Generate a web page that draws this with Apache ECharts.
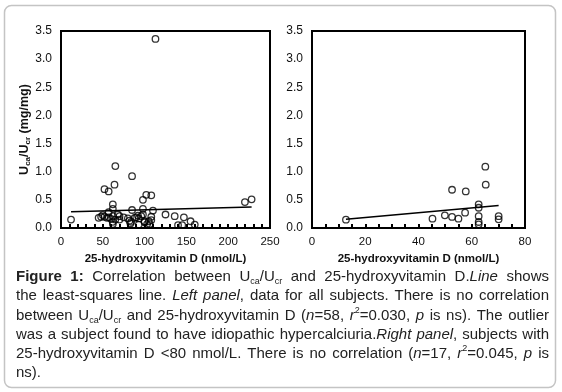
<!DOCTYPE html>
<html><head><meta charset="utf-8">
<script src="https://cdn.jsdelivr.net/npm/echarts@6/dist/echarts.min.js"></script>
<style>html,body{margin:0;padding:0;background:#fff}#main{width:562px;height:392px}</style>
</head><body><div id="main"></div>
<script>
// left panel: all subjects
var leftX=[12,113,65,85,64,52,57,102,108,98,220,228,62,85,98,110,62,57,125,136,147,155,160,140,145,45,50,52,55,62,62,62,70,70,80,82,83,90,93,96,98,100,93,105,108,108,106,88,103,65,57,48,75,92,100,68,84,60];
var leftY=[0.15,3.36,1.10,0.92,0.77,0.69,0.65,0.59,0.58,0.50,0.46,0.51,0.42,0.32,0.34,0.31,0.34,0.28,0.24,0.21,0.19,0.12,0.06,0.05,0.05,0.18,0.23,0.20,0.18,0.21,0.11,0.07,0.21,0.15,0.17,0.13,0.08,0.19,0.17,0.21,0.24,0.12,0.06,0.12,0.20,0.14,0.07,0.18,0.07,0.15,0.19,0.20,0.19,0.22,0.10,0.24,0.11,0.16];
var leftFitX=[12,228], leftFitY=[0.29,0.375];
// right panel: 25-hydroxyvitamin D < 80
var rightX=[12.75,45.25,49.9,52.6,55,57.5,52.6,57.75,65.1,65.25,62.6,62.6,62.6,62.6,62.6,70.1,70.1];
var rightY=[0.148,0.166,0.225,0.196,0.166,0.273,0.68,0.65,1.09,0.77,0.42,0.36,0.21,0.107,0.065,0.21,0.155];
var rightFitX=[12.75,70.1], rightFitY=[0.154,0.40];
var captionLines=[
 "{b|Figure} {b|1:} Correlation between U{sub|ca}/U{sub|cr} and 25-hydroxyvitamin D.{i|Line} shows",
 "the least-squares line. {i|Left} {i|panel}, data for all subjects. There is no correlation",
 "between U{sub|ca}/U{sub|cr} and 25-hydroxyvitamin D ({i|n}=58, {i|r}{sup|2}=0.030, {i|p} is ns). The outlier",
 "was a subject found to have idiopathic hypercalciuria.{i|Right} {i|panel}, subjects with",
 "25-hydroxyvitamin D <80 nmol/L. There is no correlation ({i|n}=17, {i|r}{sup|2}=0.045, {i|p} is",
 "ns)."
];

var FONT='"Liberation Sans", Arial, sans-serif';
var chart=echarts.init(document.getElementById('main'));
function pairs(xs,ys){var a=[];for(var i=0;i<xs.length;i++){a.push([xs[i],ys[i]]);}return a;}

// caption, justified word by word
var ctx=document.createElement('canvas').getContext('2d');
var styles={n:{w:'normal',s:'normal',size:15,dy:0},b:{w:'bold',s:'normal',size:15,dy:0},i:{w:'normal',s:'italic',size:15,dy:0},
  sub:{w:'normal',s:'normal',size:9,dy:5},sup:{w:'normal',s:'normal',size:9,dy:-5}};
function fontOf(k){var st=styles[k];return st.s+' '+st.w+' '+st.size+'px '+FONT;}
function parseWord(w){var segs=[],re=/\{(\w+)\|([^}]*)\}|([^{]+)/g,m;while((m=re.exec(w))){if(m[1]){segs.push([m[1],m[2]]);}else{segs.push(['n',m[3]]);}}return segs;}
var capLeft=16,capRight=549,capTop=277,capStep=19.2;
var graphics=[{type:'rect',shape:{x:4.5,y:5.5,width:551,height:382,r:7},style:{fill:'none',stroke:'#c4c4c4',lineWidth:1.5},silent:true}];
captionLines.forEach(function(line,li){
  var words=line.split(' ').map(parseWord);
  var widths=words.map(function(segs){var w=0;segs.forEach(function(s){ctx.font=fontOf(s[0]);s.push(ctx.measureText(s[1]).width);w+=s[2];});return w;});
  var total=widths.reduce(function(a,b){return a+b;},0);
  ctx.font=fontOf('n');
  var spaceW=ctx.measureText(' ').width;
  var gap=(li<captionLines.length-1)?(capRight-capLeft-total)/(words.length-1):spaceW;
  var x=capLeft,y=capTop+li*capStep;
  words.forEach(function(segs){
    segs.forEach(function(s){
      graphics.push({type:'text',silent:true,style:{text:s[1],x:x,y:y+styles[s[0]].dy,font:fontOf(s[0]),fill:'#222',textAlign:'left',textVerticalAlign:'middle'}});
      x+=s[2];
    });
    x+=gap;
  });
});

var nameStyle={fontSize:11.5,fontWeight:'bold',color:'#111',fontFamily:FONT};
function xAx(idx,max,interval,minorSplit){
  return {gridIndex:idx,type:'value',min:0,max:max,interval:interval,
    name:'25-hydroxyvitamin D (nmol/L)',nameLocation:'middle',nameGap:25,nameTextStyle:nameStyle,
    axisLine:{onZero:false,lineStyle:{color:'#000',width:2}},
    axisTick:{show:true,inside:true,length:4,lineStyle:{color:'#000',width:2}},
    minorTick:{show:true,splitNumber:minorSplit,length:4,lineStyle:{color:'#000',width:2}},
    axisLabel:{margin:8,fontSize:11.5,color:'#111',fontFamily:FONT},splitLine:{show:false}};
}
function yAx(idx,withName){
  var a={gridIndex:idx,type:'value',min:0,max:3.5,interval:0.5,
    axisLine:{onZero:false,lineStyle:{color:'#000',width:2}},axisTick:{show:false},
    axisLabel:{margin:9,fontSize:12,color:'#111',fontFamily:FONT,formatter:function(v){return v.toFixed(1);}},splitLine:{show:false}};
  if(withName){
    a.name='U{s|ca}/U{s|cr} (mg/mg)';a.nameLocation='middle';a.nameGap=28;
    a.nameTextStyle={fontSize:12.5,fontWeight:'bold',color:'#111',fontFamily:FONT,
      rich:{s:{fontSize:8,fontWeight:'bold',fontFamily:FONT,color:'#111',verticalAlign:'bottom',padding:[5,0,0,0]}}};
  }
  return a;
}
var sym={color:'rgba(0,0,0,0)',borderColor:'#000',borderWidth:1.3};
var option={
  backgroundColor:'#fff',animation:false,
  grid:[{left:61,top:31,width:209,height:197,show:true,borderColor:'#000',borderWidth:2},
        {left:312,top:31,width:213,height:197,show:true,borderColor:'#000',borderWidth:2}],
  xAxis:[xAx(0,250,50,5),xAx(1,80,20,4)],
  yAxis:[yAx(0,true),yAx(1,false)],
  series:[
    {type:'scatter',xAxisIndex:0,yAxisIndex:0,data:pairs(leftX,leftY),symbol:'circle',symbolSize:6.5,itemStyle:sym,z:3},
    {type:'line',xAxisIndex:0,yAxisIndex:0,data:pairs(leftFitX,leftFitY),showSymbol:false,symbol:'none',lineStyle:{color:'#000',width:1.5},z:2},
    {type:'scatter',xAxisIndex:1,yAxisIndex:1,data:pairs(rightX,rightY),symbol:'circle',symbolSize:6.5,itemStyle:sym,z:3},
    {type:'line',xAxisIndex:1,yAxisIndex:1,data:pairs(rightFitX,rightFitY),showSymbol:false,symbol:'none',lineStyle:{color:'#000',width:1.5},z:2}
  ],
  graphic:graphics
};
chart.setOption(option);
</script>
</body></html>
